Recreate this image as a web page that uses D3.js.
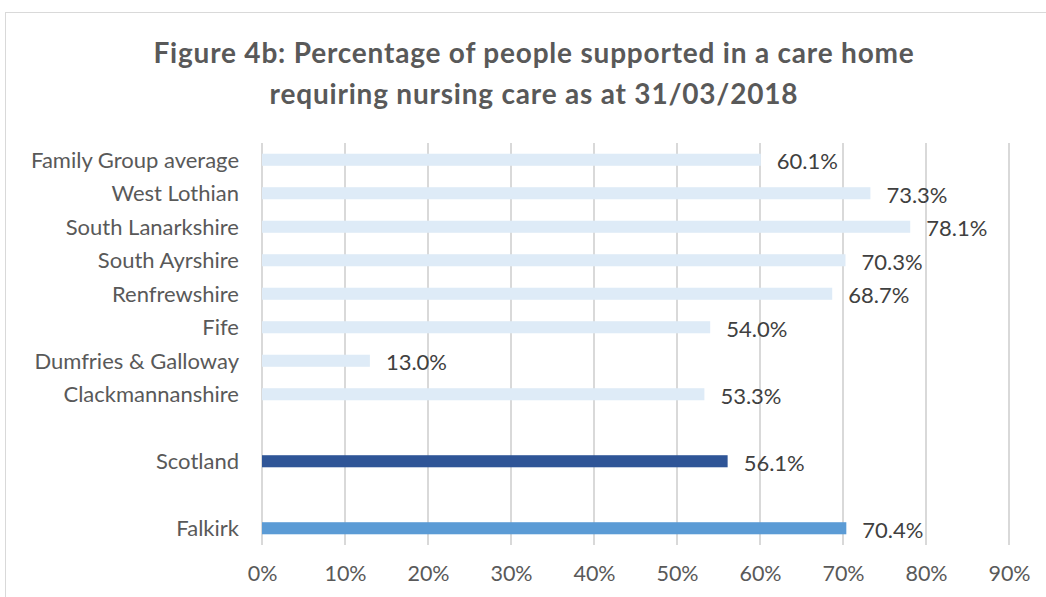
<!DOCTYPE html>
<html>
<head>
<meta charset="utf-8">
<script src="https://cdn.jsdelivr.net/npm/d3@7"></script>
<style>
  html, body { margin: 0; padding: 0; background: #fff; }
  svg { display: block; }
  text { font-family: Lato, "Open Sans", sans-serif; }
</style>
</head>
<body>
<svg id="chart" width="1046" height="597"></svg>
<script>
// Local authorities in the family group, top to bottom
const familyAreas = ["Family Group average", "West Lothian", "South Lanarkshire", "South Ayrshire",
                     "Renfrewshire", "Fife", "Dumfries & Galloway", "Clackmannanshire"];
const familyValues = [60.1, 73.3, 78.1, 70.3, 68.7, 54.0, 13.0, 53.3];

// National comparator and the focus council
const scotlandLabel = "Scotland";
const scotlandValue = 56.1;
const falkirkLabel = "Falkirk";
const falkirkValue = 70.4;

const tickValues = [0, 10, 20, 30, 40, 50, 60, 70, 80, 90];

const titleLines = ["Figure 4b: Percentage of people supported in a care home",
                    "requiring nursing care as at 31/03/2018"];

// Rows with empty spacer slots between the groups
const rows = familyAreas.map((name, i) => ({ key: name, label: name, value: familyValues[i], group: "family" }))
  .concat([{ key: "_gap1", label: "", value: null, group: "gap" },
           { key: scotlandLabel, label: scotlandLabel, value: scotlandValue, group: "scotland" },
           { key: "_gap2", label: "", value: null, group: "gap" },
           { key: falkirkLabel, label: falkirkLabel, value: falkirkValue, group: "falkirk" }]);

const fillFor = { family: "#DEEBF7", scotland: "#2F5597", falkirk: "#5B9BD5" };

const svg = d3.select("#chart");

// Outer chart frame
svg.append("rect")
  .attr("x", 5.5).attr("y", 12.5)
  .attr("width", 1060).attr("height", 620)
  .attr("fill", "none").attr("stroke", "#d9d9d9").attr("stroke-width", 1);

// Title
svg.append("g").selectAll("text")
  .data(titleLines)
  .join("text")
  .attr("x", 534)
  .attr("y", (d, i) => 63 + i * 41)
  .attr("text-anchor", "middle")
  .attr("font-size", 28)
  .attr("font-weight", "bold")
  .attr("letter-spacing", 0.8)
  .attr("fill", "#595959")
  .text(d => d);

const plot = { left: 262, right: 1009, top: 143, bottom: 545 };

const x = d3.scaleLinear().domain([0, 90]).range([plot.left, plot.right]);
const y = d3.scaleBand().domain(rows.map(r => r.key))
  .range([plot.top, plot.bottom]).paddingInner(0.64).paddingOuter(0.32);

// Vertical gridlines
svg.append("g").selectAll("line")
  .data(tickValues)
  .join("line")
  .attr("x1", d => x(d)).attr("x2", d => x(d))
  .attr("y1", plot.top).attr("y2", plot.bottom)
  .attr("stroke", "#d9d9d9").attr("stroke-width", 2);

// X axis tick labels
const xAxis = d3.axisBottom(x).tickValues(tickValues).tickSize(0).tickPadding(0)
  .tickFormat(d => d + "%");
const gx = svg.append("g").attr("transform", `translate(0,${plot.bottom + 21})`).call(xAxis);
gx.select(".domain").remove();
gx.selectAll("text")
  .attr("font-size", 21.5).attr("fill", "#595959")
  .attr("font-family", "Lato, 'Open Sans', sans-serif")
  .attr("dy", "0.71em");

const dataRows = rows.filter(r => r.group !== "gap");

// Bars
svg.append("g").selectAll("rect")
  .data(dataRows)
  .join("rect")
  .attr("x", x(0))
  .attr("y", d => y(d.key))
  .attr("width", d => x(d.value) - x(0))
  .attr("height", y.bandwidth())
  .attr("fill", d => fillFor[d.group]);

// Category labels
const yAxis = d3.axisLeft(y).tickSize(0).tickPadding(0).tickFormat(k => {
  const r = rows.find(d => d.key === k);
  return r ? r.label : "";
});
const gy = svg.append("g").attr("transform", `translate(${plot.left - 23},1)`).call(yAxis);
gy.select(".domain").remove();
gy.selectAll("text")
  .attr("font-size", 22).attr("fill", "#595959")
  .attr("font-family", "Lato, 'Open Sans', sans-serif");

// Value labels at the bar ends
svg.append("g").selectAll("text")
  .data(dataRows)
  .join("text")
  .attr("x", d => x(d.value) + 16)
  .attr("y", d => y(d.key) + y.bandwidth() / 2 + 2)
  .attr("dy", "0.35em")
  .attr("font-size", 22)
  .attr("fill", "#404040")
  .text(d => d.value.toFixed(1) + "%");
</script>
</body>
</html>
